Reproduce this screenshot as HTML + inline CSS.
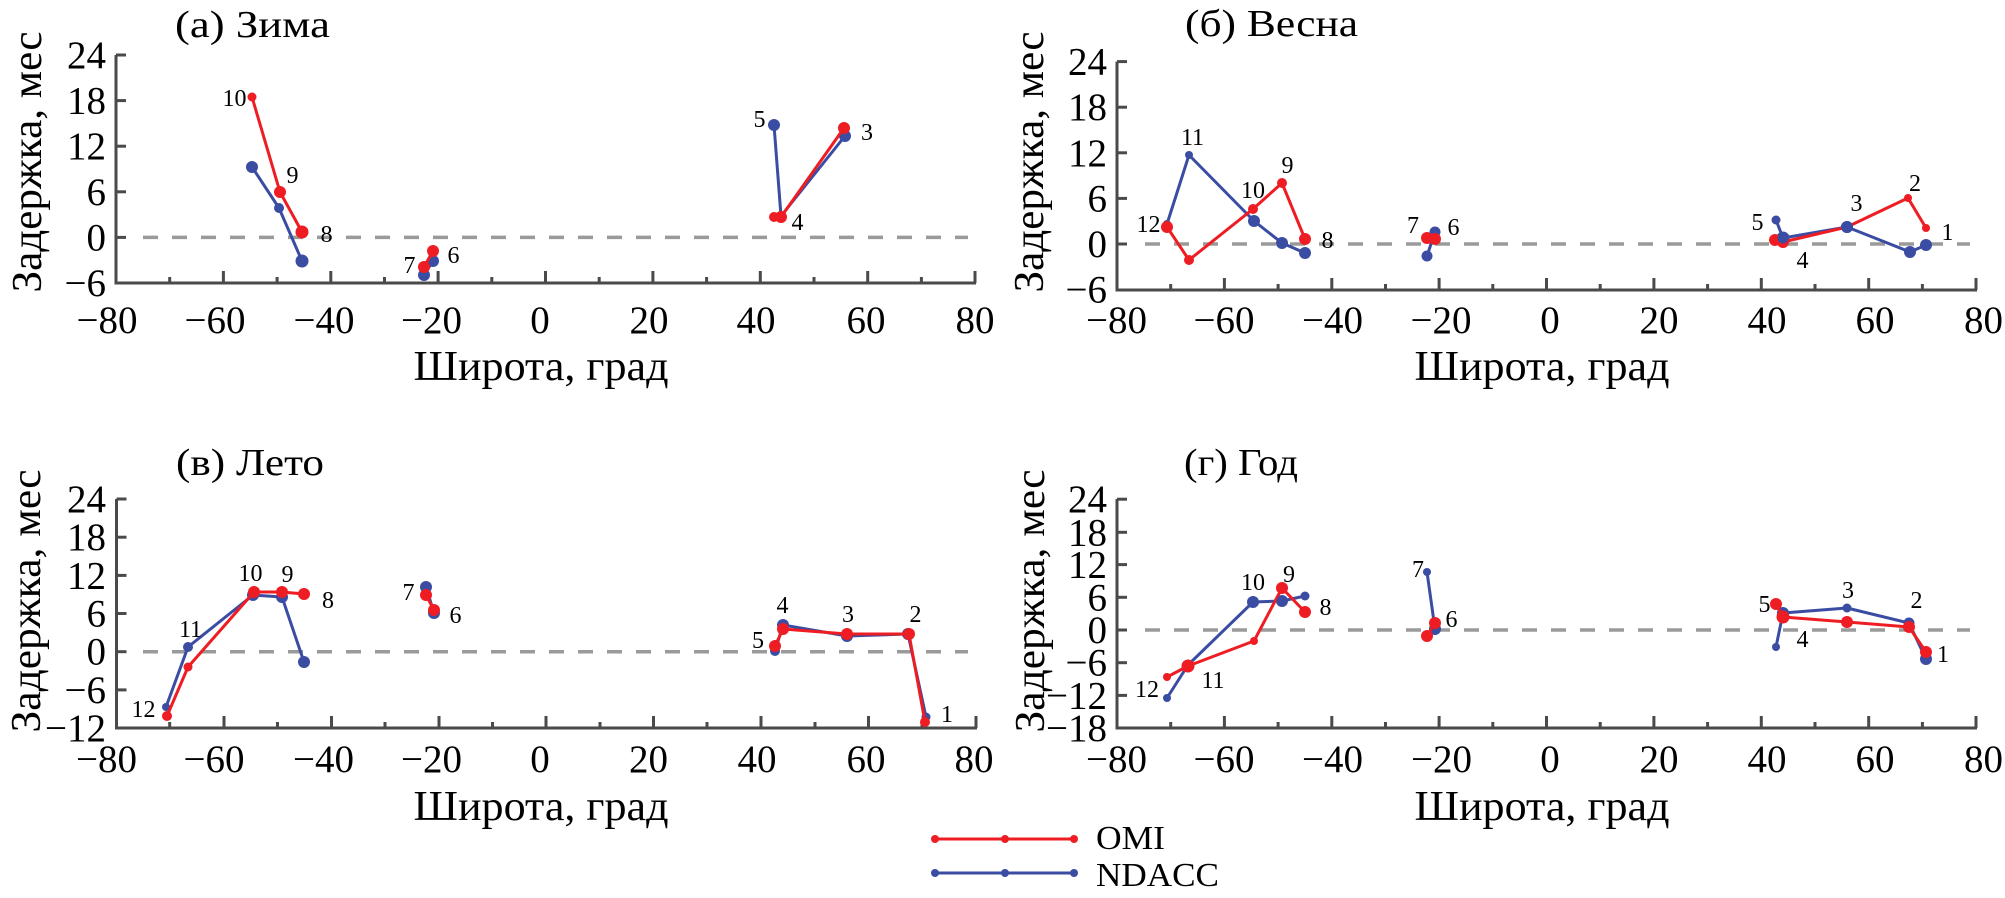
<!DOCTYPE html>
<html><head><meta charset="utf-8"><style>
html,body{margin:0;padding:0;background:#fff;}
svg{display:block;}
text{font-family:"Liberation Serif","DejaVu Serif",serif;fill:#000;}
.ax{stroke:#4a4a4a;stroke-width:3;fill:none;}
.tk{stroke:#4a4a4a;stroke-width:3;}
.dz{stroke:#9a9a9a;stroke-width:3.5;stroke-dasharray:15 14;fill:none;}
.r{stroke:#ee1d23;stroke-width:3;fill:none;stroke-linejoin:round;}
.b{stroke:#3b4ca3;stroke-width:3;fill:none;stroke-linejoin:round;}
.rc{fill:#ee1d23;}
.bc{fill:#3b4ca3;}
.tl{font-size:39px;font-family:"Liberation Serif",serif;}
.pl{font-size:24px;font-family:"Liberation Serif",serif;}
.ti{font-size:38px;font-family:"Liberation Serif",serif;}
.at{font-size:42px;font-family:"Liberation Serif",serif;}
</style></head><body>
<svg width="2005" height="898" viewBox="0 0 2005 898" xmlns="http://www.w3.org/2000/svg" font-family="Liberation Serif, serif">

<!-- ========== Panel (а) ========== -->
<text class="ti" x="175" y="37" textLength="155" lengthAdjust="spacingAndGlyphs">(а) Зима</text>
<line class="dz" x1="143" y1="237.4" x2="968" y2="237.4"/>
<path class="ax" d="M116,55 V283 H976"/>
<g class="tk">
<line x1="116" y1="55" x2="126" y2="55"/><line x1="116" y1="100.6" x2="126" y2="100.6"/><line x1="116" y1="146.2" x2="126" y2="146.2"/><line x1="116" y1="191.8" x2="126" y2="191.8"/><line x1="116" y1="237.4" x2="126" y2="237.4"/>
<line x1="169.7" y1="283" x2="169.7" y2="277"/><line x1="223.4" y1="283" x2="223.4" y2="271"/><line x1="277.1" y1="283" x2="277.1" y2="277"/><line x1="330.8" y1="283" x2="330.8" y2="271"/><line x1="384.5" y1="283" x2="384.5" y2="277"/><line x1="438.1" y1="283" x2="438.1" y2="271"/><line x1="491.8" y1="283" x2="491.8" y2="277"/><line x1="545.5" y1="283" x2="545.5" y2="271"/><line x1="599.2" y1="283" x2="599.2" y2="277"/><line x1="652.9" y1="283" x2="652.9" y2="271"/><line x1="706.6" y1="283" x2="706.6" y2="277"/><line x1="760.3" y1="283" x2="760.3" y2="271"/><line x1="814" y1="283" x2="814" y2="277"/><line x1="867.7" y1="283" x2="867.7" y2="271"/><line x1="921.4" y1="283" x2="921.4" y2="277"/><line x1="975" y1="283" x2="975" y2="271"/>
</g>
<g class="tl" text-anchor="end">
<text x="106" y="68">24</text><text x="106" y="113.6">18</text><text x="106" y="159.2">12</text><text x="106" y="204.8">6</text><text x="106" y="250.4">0</text><text x="106" y="296">−6</text>
</g>
<g class="tl" text-anchor="middle">
<text x="107" y="333">−80</text><text x="215" y="333">−60</text><text x="324" y="333">−40</text><text x="431.5" y="333">−20</text><text x="540" y="333">0</text><text x="649" y="333">20</text><text x="756" y="333">40</text><text x="866" y="333">60</text><text x="975" y="333">80</text>
</g>
<text class="at" x="541" y="380" text-anchor="middle" textLength="255" lengthAdjust="spacingAndGlyphs">Широта, град</text>
<text class="at" transform="translate(41,162) rotate(-90)" x="0" y="0" text-anchor="middle" textLength="261" lengthAdjust="spacingAndGlyphs">Задержка, мес</text>

<!-- data (а) -->
<polyline class="b" points="252,167 279,208 302,261"/>
<polyline class="b" points="424,275 433,261"/>
<polyline class="b" points="774,125 781,216 845,136"/>
<g class="bc"><circle cx="252" cy="167" r="6"/><circle cx="279" cy="208" r="5"/><circle cx="302" cy="261" r="6.5"/><circle cx="424" cy="275" r="6"/><circle cx="433" cy="261" r="6"/><circle cx="774" cy="125" r="6"/><circle cx="781" cy="216" r="5"/><circle cx="845" cy="136" r="6"/></g>
<polyline class="r" points="252,97 280,192 302,232"/>
<polyline class="r" points="424,267 433,251"/>
<polyline class="r" points="774,217 781,217 844,128"/>
<g class="rc"><circle cx="252" cy="97" r="4.5"/><circle cx="280" cy="192" r="6"/><circle cx="302" cy="232" r="6.5"/><circle cx="424" cy="267" r="6"/><circle cx="433" cy="251" r="6"/><circle cx="774" cy="217" r="5"/><circle cx="781" cy="217" r="6"/><circle cx="844" cy="128" r="6"/></g>
<g class="pl" text-anchor="middle">
<text x="234.5" y="106">10</text><text x="292.5" y="183">9</text><text x="326.5" y="242">8</text><text x="409.5" y="273">7</text><text x="453.5" y="263">6</text><text x="759.5" y="127">5</text><text x="867" y="140">3</text><text x="797.5" y="230">4</text>
</g>

<!-- ========== Panel (б) ========== -->
<text class="ti" x="1185" y="36" textLength="173" lengthAdjust="spacingAndGlyphs">(б) Весна</text>
<line class="dz" x1="1145" y1="244" x2="1970" y2="244"/>
<path class="ax" d="M1117,61.6 V290 H1977"/>
<g class="tk">
<line x1="1117" y1="61.6" x2="1127" y2="61.6"/><line x1="1117" y1="107.2" x2="1127" y2="107.2"/><line x1="1117" y1="152.8" x2="1127" y2="152.8"/><line x1="1117" y1="198.4" x2="1127" y2="198.4"/><line x1="1117" y1="244" x2="1127" y2="244"/>
<line x1="1170.7" y1="290" x2="1170.7" y2="284"/><line x1="1224.4" y1="290" x2="1224.4" y2="278"/><line x1="1278.1" y1="290" x2="1278.1" y2="284"/><line x1="1331.8" y1="290" x2="1331.8" y2="278"/><line x1="1385.5" y1="290" x2="1385.5" y2="284"/><line x1="1439.1" y1="290" x2="1439.1" y2="278"/><line x1="1492.8" y1="290" x2="1492.8" y2="284"/><line x1="1546.5" y1="290" x2="1546.5" y2="278"/><line x1="1600.2" y1="290" x2="1600.2" y2="284"/><line x1="1653.9" y1="290" x2="1653.9" y2="278"/><line x1="1707.6" y1="290" x2="1707.6" y2="284"/><line x1="1761.3" y1="290" x2="1761.3" y2="278"/><line x1="1815" y1="290" x2="1815" y2="284"/><line x1="1868.7" y1="290" x2="1868.7" y2="278"/><line x1="1922.4" y1="290" x2="1922.4" y2="284"/><line x1="1976" y1="290" x2="1976" y2="278"/>
</g>
<g class="tl" text-anchor="end">
<text x="1107" y="74.6">24</text><text x="1107" y="120.2">18</text><text x="1107" y="165.8">12</text><text x="1107" y="211.4">6</text><text x="1107" y="257">0</text><text x="1107" y="302.6">−6</text>
</g>
<g class="tl" text-anchor="middle">
<text x="1116.5" y="333">−80</text><text x="1224" y="333">−60</text><text x="1332.5" y="333">−40</text><text x="1441" y="333">−20</text><text x="1550" y="333">0</text><text x="1659" y="333">20</text><text x="1767" y="333">40</text><text x="1875" y="333">60</text><text x="1983.5" y="333">80</text>
</g>
<text class="at" x="1542" y="380" text-anchor="middle" textLength="255" lengthAdjust="spacingAndGlyphs">Широта, град</text>
<text class="at" transform="translate(1043,162) rotate(-90)" x="0" y="0" text-anchor="middle" textLength="261" lengthAdjust="spacingAndGlyphs">Задержка, мес</text>

<!-- data (б) -->
<polyline class="b" points="1167,224 1189,155 1254,221 1282,243 1305,253"/>
<polyline class="b" points="1427,256 1435,232"/>
<polyline class="b" points="1776,220 1783,238 1847,227 1910,252 1926,245"/>
<g class="bc"><circle cx="1167" cy="224" r="4"/><circle cx="1189" cy="155" r="4"/><circle cx="1254" cy="221" r="6"/><circle cx="1282" cy="243" r="6"/><circle cx="1305" cy="253" r="6"/><circle cx="1427" cy="256" r="5.5"/><circle cx="1435" cy="232" r="5.5"/><circle cx="1776" cy="220" r="4.5"/><circle cx="1783" cy="238" r="6.5"/><circle cx="1847" cy="227" r="6"/><circle cx="1910" cy="252" r="6"/><circle cx="1926" cy="245" r="6"/></g>
<polyline class="r" points="1167,227 1189,260 1253,209 1282,183 1305,239"/>
<polyline class="r" points="1427,238 1435,239"/>
<polyline class="r" points="1775,240 1783,242 1847,227 1908,198 1926,228"/>
<g class="rc"><circle cx="1167" cy="227" r="6"/><circle cx="1189" cy="260" r="5"/><circle cx="1253" cy="209" r="5"/><circle cx="1282" cy="183" r="5"/><circle cx="1305" cy="239" r="6"/><circle cx="1427" cy="238" r="6"/><circle cx="1435" cy="239" r="6"/><circle cx="1775" cy="240" r="6"/><circle cx="1783" cy="242" r="6"/><circle cx="1908" cy="198" r="4"/><circle cx="1926" cy="228" r="4"/></g>
<circle class="bc" cx="1783" cy="238" r="5.5"/><circle class="bc" cx="1847" cy="227" r="6"/>
<g class="pl" text-anchor="middle">
<text x="1148.5" y="232">12</text><text x="1192.5" y="145">11</text><text x="1253" y="198">10</text><text x="1287.5" y="173">9</text><text x="1327.5" y="248">8</text><text x="1413" y="233">7</text><text x="1453.5" y="235">6</text><text x="1757.5" y="230">5</text><text x="1802.5" y="268">4</text><text x="1856.5" y="211">3</text><text x="1915" y="191">2</text><text x="1947.5" y="240">1</text>
</g>

<!-- ========== Panel (в) ========== -->
<text class="ti" x="176" y="475" textLength="148" lengthAdjust="spacingAndGlyphs">(в) Лето</text>
<line class="dz" x1="143" y1="651.7" x2="968" y2="651.7"/>
<path class="ax" d="M116.5,499 V728 H977"/>
<g class="tk">
<line x1="116.5" y1="499" x2="126.5" y2="499"/><line x1="116.5" y1="537.2" x2="126.5" y2="537.2"/><line x1="116.5" y1="575.4" x2="126.5" y2="575.4"/><line x1="116.5" y1="613.5" x2="126.5" y2="613.5"/><line x1="116.5" y1="651.7" x2="126.5" y2="651.7"/><line x1="116.5" y1="689.9" x2="126.5" y2="689.9"/>
<line x1="169.7" y1="728" x2="169.7" y2="722"/><line x1="224" y1="728" x2="224" y2="716"/><line x1="277.5" y1="728" x2="277.5" y2="722"/><line x1="331.5" y1="728" x2="331.5" y2="716"/><line x1="385" y1="728" x2="385" y2="722"/><line x1="439" y1="728" x2="439" y2="716"/><line x1="492.5" y1="728" x2="492.5" y2="722"/><line x1="546" y1="728" x2="546" y2="716"/><line x1="600" y1="728" x2="600" y2="722"/><line x1="653.5" y1="728" x2="653.5" y2="716"/><line x1="707" y1="728" x2="707" y2="722"/><line x1="761" y1="728" x2="761" y2="716"/><line x1="815" y1="728" x2="815" y2="722"/><line x1="868.5" y1="728" x2="868.5" y2="716"/><line x1="922" y1="728" x2="922" y2="722"/><line x1="976" y1="728" x2="976" y2="716"/>
</g>
<g class="tl" text-anchor="end">
<text x="106" y="512">24</text><text x="106" y="550.2">18</text><text x="106" y="588.4">12</text><text x="106" y="626.5">6</text><text x="106" y="664.7">0</text><text x="106" y="702.9">−6</text><text x="106" y="741">−12</text>
</g>
<g class="tl" text-anchor="middle">
<text x="106.5" y="772">−80</text><text x="214" y="772">−60</text><text x="323.5" y="772">−40</text><text x="431.5" y="772">−20</text><text x="540" y="772">0</text><text x="648.5" y="772">20</text><text x="757" y="772">40</text><text x="866" y="772">60</text><text x="974" y="772">80</text>
</g>
<text class="at" x="541" y="820" text-anchor="middle" textLength="255" lengthAdjust="spacingAndGlyphs">Широта, град</text>
<text class="at" transform="translate(40,601) rotate(-90)" x="0" y="0" text-anchor="middle" textLength="263" lengthAdjust="spacingAndGlyphs">Задержка, мес</text>

<!-- data (в) -->
<polyline class="b" points="166,707 188,647 253,595 282,597 304,662"/>
<polyline class="b" points="426,587 434,613"/>
<polyline class="b" points="775,651 783,625 847,636 908,634 926,717"/>
<g class="bc"><circle cx="166" cy="707" r="4"/><circle cx="188" cy="647" r="5"/><circle cx="253" cy="595" r="6"/><circle cx="282" cy="597" r="6"/><circle cx="304" cy="662" r="6"/><circle cx="426" cy="587" r="6"/><circle cx="434" cy="613" r="6"/><circle cx="775" cy="651" r="5"/><circle cx="783" cy="625" r="6"/><circle cx="847" cy="636" r="6"/><circle cx="908" cy="634" r="6"/><circle cx="926" cy="717" r="4.5"/></g>
<polyline class="r" points="167,716 188,667 254,592 282,592 304,594"/>
<polyline class="r" points="426,595 434,610"/>
<polyline class="r" points="775,646 783,629 847,634 909,634 925,722"/>
<g class="rc"><circle cx="167" cy="716" r="5"/><circle cx="188" cy="667" r="4.5"/><circle cx="254" cy="592" r="6"/><circle cx="282" cy="592" r="6"/><circle cx="304" cy="594" r="6"/><circle cx="426" cy="595" r="6"/><circle cx="434" cy="610" r="6"/><circle cx="775" cy="646" r="6"/><circle cx="783" cy="629" r="6"/><circle cx="847" cy="634" r="6"/><circle cx="909" cy="634" r="6"/><circle cx="925" cy="722" r="5"/></g>
<g class="pl" text-anchor="middle">
<text x="143.5" y="717">12</text><text x="190.5" y="637">11</text><text x="250.5" y="581">10</text><text x="287.5" y="582">9</text><text x="328" y="608">8</text><text x="408.5" y="600">7</text><text x="455.5" y="623">6</text><text x="758" y="648">5</text><text x="782.5" y="613">4</text><text x="848" y="622">3</text><text x="915.5" y="622">2</text><text x="947" y="722">1</text>
</g>

<!-- ========== Panel (г) ========== -->
<text class="ti" x="1184" y="475" textLength="114" lengthAdjust="spacingAndGlyphs">(г) Год</text>
<line class="dz" x1="1145" y1="630" x2="1970" y2="630"/>
<path class="ax" d="M1117,499 V728 H1977"/>
<g class="tk">
<line x1="1117" y1="499.2" x2="1127" y2="499.2"/><line x1="1117" y1="532.3" x2="1127" y2="532.3"/><line x1="1117" y1="564.6" x2="1127" y2="564.6"/><line x1="1117" y1="597.3" x2="1127" y2="597.3"/><line x1="1117" y1="630" x2="1127" y2="630"/><line x1="1117" y1="662.7" x2="1127" y2="662.7"/><line x1="1117" y1="695.4" x2="1127" y2="695.4"/>
<line x1="1170.7" y1="728" x2="1170.7" y2="722"/><line x1="1224.4" y1="728" x2="1224.4" y2="716"/><line x1="1278.1" y1="728" x2="1278.1" y2="722"/><line x1="1331.8" y1="728" x2="1331.8" y2="716"/><line x1="1385.5" y1="728" x2="1385.5" y2="722"/><line x1="1439.1" y1="728" x2="1439.1" y2="716"/><line x1="1492.8" y1="728" x2="1492.8" y2="722"/><line x1="1546.5" y1="728" x2="1546.5" y2="716"/><line x1="1600.2" y1="728" x2="1600.2" y2="722"/><line x1="1653.9" y1="728" x2="1653.9" y2="716"/><line x1="1707.6" y1="728" x2="1707.6" y2="722"/><line x1="1761.3" y1="728" x2="1761.3" y2="716"/><line x1="1815" y1="728" x2="1815" y2="722"/><line x1="1868.7" y1="728" x2="1868.7" y2="716"/><line x1="1922.4" y1="728" x2="1922.4" y2="722"/><line x1="1976" y1="728" x2="1976" y2="716"/>
</g>
<g class="tl" text-anchor="end">
<text x="1107" y="512.2">24</text><text x="1107" y="545.3">18</text><text x="1107" y="577.6">12</text><text x="1107" y="610.3">6</text><text x="1107" y="643">0</text><text x="1107" y="675.7">−6</text><text x="1107" y="708.4">−12</text><text x="1107" y="741">−18</text>
</g>
<g class="tl" text-anchor="middle">
<text x="1116.5" y="772">−80</text><text x="1224" y="772">−60</text><text x="1332.5" y="772">−40</text><text x="1441.5" y="772">−20</text><text x="1550" y="772">0</text><text x="1659" y="772">20</text><text x="1767" y="772">40</text><text x="1875" y="772">60</text><text x="1983.5" y="772">80</text>
</g>
<text class="at" x="1542" y="820" text-anchor="middle" textLength="255" lengthAdjust="spacingAndGlyphs">Широта, град</text>
<text class="at" transform="translate(1044,601) rotate(-90)" x="0" y="0" text-anchor="middle" textLength="263" lengthAdjust="spacingAndGlyphs">Задержка, мес</text>

<!-- data (г) -->
<polyline class="b" points="1167,698 1188,665 1253,602 1282,601 1305,596"/>
<polyline class="b" points="1427,572 1435,629"/>
<polyline class="b" points="1776,647 1783,613 1847,608 1909,623 1926,659"/>
<g class="bc"><circle cx="1167" cy="698" r="4"/><circle cx="1188" cy="665" r="5"/><circle cx="1253" cy="602" r="6"/><circle cx="1282" cy="601" r="6"/><circle cx="1305" cy="596" r="4.5"/><circle cx="1427" cy="572" r="4"/><circle cx="1435" cy="629" r="6"/><circle cx="1776" cy="647" r="4"/><circle cx="1783" cy="613" r="6"/><circle cx="1847" cy="608" r="4.5"/><circle cx="1909" cy="623" r="5.5"/><circle cx="1926" cy="659" r="6"/></g>
<polyline class="r" points="1167,677 1188,666 1254,641 1282,588 1305,612"/>
<polyline class="r" points="1427,636 1435,623"/>
<polyline class="r" points="1776,604 1783,617 1847,622 1909,627 1926,652"/>
<g class="rc"><circle cx="1167" cy="677" r="4"/><circle cx="1188" cy="666" r="6.5"/><circle cx="1254" cy="641" r="4"/><circle cx="1282" cy="588" r="6"/><circle cx="1305" cy="612" r="6"/><circle cx="1427" cy="636" r="6"/><circle cx="1435" cy="623" r="6"/><circle cx="1776" cy="604" r="6"/><circle cx="1783" cy="617" r="6.5"/><circle cx="1847" cy="622" r="6"/><circle cx="1909" cy="627" r="6"/><circle cx="1926" cy="652" r="6"/></g>
<circle class="bc" cx="1282" cy="601" r="5.5"/>
<g class="pl" text-anchor="middle">
<text x="1147" y="697">12</text><text x="1213" y="688">11</text><text x="1253" y="590">10</text><text x="1289" y="582">9</text><text x="1325.5" y="615">8</text><text x="1418" y="577">7</text><text x="1451.5" y="627">6</text><text x="1764.5" y="612">5</text><text x="1802.5" y="647">4</text><text x="1848" y="598">3</text><text x="1916.5" y="608">2</text><text x="1943" y="662">1</text>
</g>

<!-- ========== Legend ========== -->
<line class="r" x1="935" y1="839" x2="1074" y2="839"/>
<g class="rc"><circle cx="935" cy="839" r="4"/><circle cx="1005" cy="839" r="4"/><circle cx="1074" cy="839" r="4"/></g>
<line class="b" x1="935" y1="873" x2="1074" y2="873"/>
<g class="bc"><circle cx="935" cy="873" r="4"/><circle cx="1005" cy="873" r="4"/><circle cx="1074" cy="873" r="4"/></g>
<text x="1096" y="849" font-size="34" font-family="Liberation Serif, serif" textLength="69" lengthAdjust="spacingAndGlyphs">OMI</text>
<text x="1096" y="886" font-size="34" font-family="Liberation Serif, serif" textLength="123" lengthAdjust="spacingAndGlyphs">NDACC</text>

</svg>
</body></html>
